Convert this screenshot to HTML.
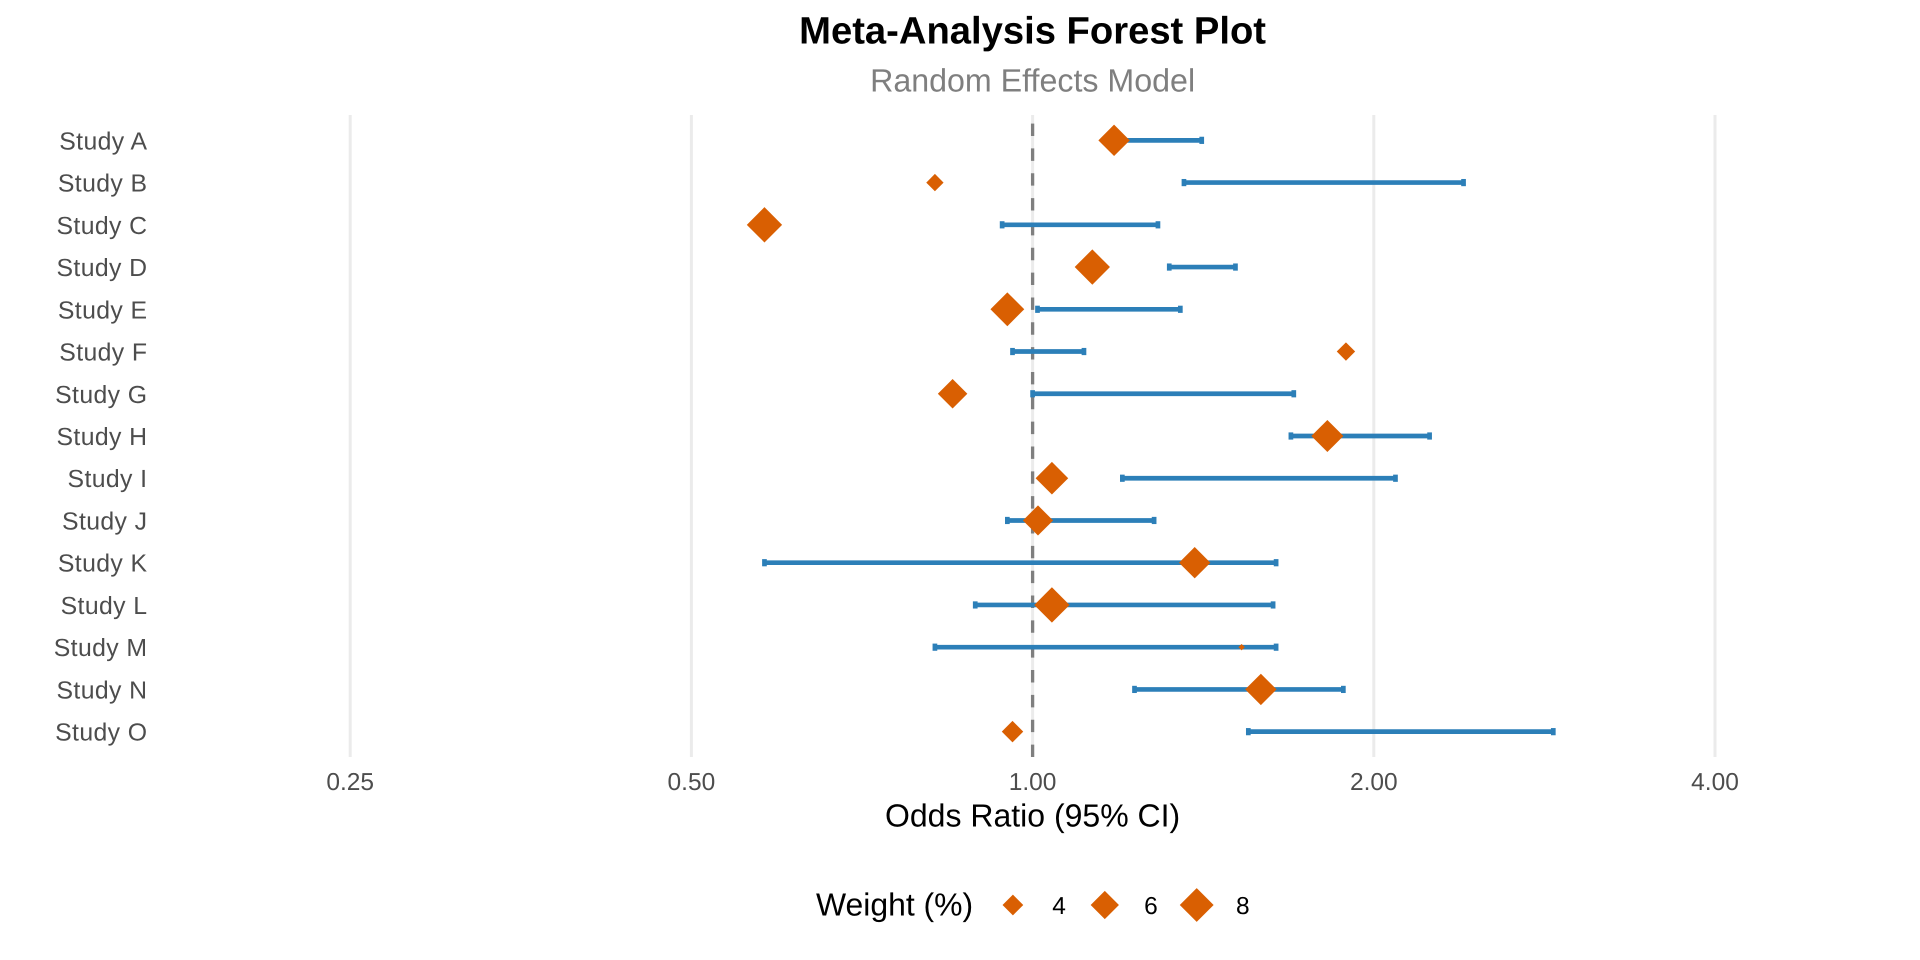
<!DOCTYPE html>
<html lang="en">
<head>
<meta charset="utf-8">
<title>Meta-Analysis Forest Plot</title>
<style>
  html, body { margin: 0; padding: 0; background: #ffffff; }
  svg { display: block; font-family: "Liberation Sans", Arial, sans-serif; text-rendering: geometricPrecision; }
</style>
</head>
<body>
<svg id="chart" xmlns="http://www.w3.org/2000/svg" width="1920" height="960" viewBox="0 0 1920 960">
  <rect x="0" y="0" width="1920" height="960" fill="#ffffff"/>
  <text x="1032.6" y="43.5" font-size="38.2" font-weight="700" text-anchor="middle" fill="#000000">Meta-Analysis Forest Plot</text>
  <text x="1032.6" y="91.5" font-size="32.2" text-anchor="middle" fill="#7f7f7f">Random Effects Model</text>
  <g id="grid"></g>
  <g id="reference"></g>
  <g id="intervals"></g>
  <g id="points"></g>
  <g id="ylabels"></g>
  <g id="xlabels"></g>
  <text x="1032.6" y="826.5" font-size="32" text-anchor="middle" fill="#000000">Odds Ratio (95% CI)</text>
  <g id="legend">
    <text x="816" y="915.3" font-size="31.9" fill="#000000">Weight (%)</text>
  </g>
</svg>
<script>
const studies = ['Study A','Study B','Study C','Study D','Study E','Study F','Study G','Study H','Study I','Study J','Study K','Study L','Study M','Study N','Study O'];
const oddsRatio = [1.18,0.82,0.58,1.129,0.95,1.89,0.85,1.82,1.04,1.011,1.39,1.04,1.529,1.59,0.96];
const ciLower = [1.19,1.36,0.94,1.32,1.01,0.96,1.0,1.69,1.2,0.95,0.58,0.89,0.82,1.23,1.55];
const ciUpper = [1.41,2.4,1.29,1.51,1.35,1.11,1.7,2.24,2.09,1.28,1.64,1.63,1.64,1.88,2.88];
const weights = [7.07,3.37,8.6,8.6,8.0,3.55,6.39,7.33,7.52,6.63,7.07,8.6,2.5,7.07,4.16];
const xTicks = [0.25,0.5,1,2,4];
const xTickLabels = ['0.25','0.50','1.00','2.00','4.00'];
const referenceValue = 1;
const legendWeights = [4,6,8];
const legendLabels = ['4','6','8'];

const SVG_NS = 'http://www.w3.org/2000/svg';
const BLUE = '#2c7fb8';
const ORANGE = '#d95f02';
const PANEL_TOP = 115;
const PANEL_BOTTOM = 757;
const WEIGHT_MIN = 2.5;
const WEIGHT_MAX = 8.6;

function xScale(v) {
  return 1032.6 + Math.log2(v) * 341.2;
}
function yScale(i) {
  const step = (PANEL_BOTTOM - PANEL_TOP) / (studies.length - 1 + 1.2);
  return PANEL_TOP + step * (0.6 + i);
}
function sizeScale(w) {
  const t = Math.max(0, (w - WEIGHT_MIN) / (WEIGHT_MAX - WEIGHT_MIN));
  return 6.4 + 28.9 * Math.sqrt(t);
}
function make(tag, parent, attrs) {
  const el = document.createElementNS(SVG_NS, tag);
  for (const key in attrs) el.setAttribute(key, attrs[key]);
  parent.appendChild(el);
  return el;
}
function diamondPoints(cx, cy, d) {
  const r = d / 2;
  return [[cx, cy - r], [cx + r, cy], [cx, cy + r], [cx - r, cy]].map(p => p[0].toFixed(2) + ',' + p[1].toFixed(2)).join(' ');
}

const gridGroup = document.getElementById('grid');
const xLabelGroup = document.getElementById('xlabels');
xTicks.forEach(function (tick, i) {
  const x = xScale(tick);
  const gridLine = make('line', gridGroup, { x1: x, x2: x, y1: PANEL_TOP, y2: PANEL_BOTTOM, stroke: '#ebebeb', 'stroke-width': 3 });
  
  
  const tickLabel = make('text', xLabelGroup, { x: x, y: 790, 'font-size': 24.5, 'text-anchor': 'middle', fill: '#4d4d4d' });
  
  
  tickLabel.textContent = xTickLabels[i];
});

const refX = xScale(referenceValue);
const refLine = make('line', document.getElementById('reference'), { x1: refX, x2: refX, y1: PANEL_BOTTOM, y2: PANEL_TOP, stroke: '#7f7f7f', 'stroke-width': 3.3, 'stroke-dasharray': '12.42 12.42' });



const intervalGroup = document.getElementById('intervals');
const pointGroup = document.getElementById('points');
const yLabelGroup = document.getElementById('ylabels');
studies.forEach(function (name, i) {
  const y = yScale(i);
  const x1 = xScale(ciLower[i]);
  const x2 = xScale(ciUpper[i]);

  const ciLine = make('line', intervalGroup, { x1: x1, x2: x2, y1: y, y2: y, stroke: BLUE, 'stroke-width': 4.7 });
  
  

  const lowerCap = make('line', intervalGroup, { x1: x1, x2: x1, y1: y - 3.6, y2: y + 3.6, stroke: BLUE, 'stroke-width': 4.7 });
  
  

  const upperCap = make('line', intervalGroup, { x1: x2, x2: x2, y1: y - 3.6, y2: y + 3.6, stroke: BLUE, 'stroke-width': 4.7 });
  
  

  const point = make('polygon', pointGroup, { points: diamondPoints(xScale(oddsRatio[i]), y, sizeScale(weights[i])), fill: ORANGE });
  
  

  const yLabel = make('text', yLabelGroup, { x: 147.4, y: y + 9, 'font-size': 24.8, 'letter-spacing': 0.38, 'text-anchor': 'end', fill: '#4d4d4d' });
  
  
  yLabel.textContent = name;
});

const legendGroup = document.getElementById('legend');
legendWeights.forEach(function (w, i) {
  const keyX = 1012.9 + i * 91.9;
  const key = make('polygon', legendGroup, { points: diamondPoints(keyX, 905, sizeScale(w)), fill: ORANGE });
  
  
  const label = make('text', legendGroup, { x: keyX + 39.3, y: 914, 'font-size': 24.5, fill: '#000000' });
  
  
  label.textContent = legendLabels[i];
});
</script>
</body>
</html>
